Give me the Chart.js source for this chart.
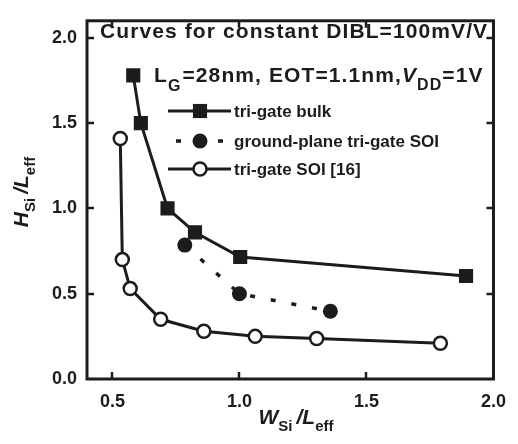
<!DOCTYPE html>
<html>
<head>
<meta charset="utf-8">
<script src="https://cdn.jsdelivr.net/npm/chart.js@4.4.1/dist/chart.umd.min.js"></script>
<style>
  html, body { margin: 0; padding: 0; background: #fff; }
  #wrap { width: 518px; height: 444px; }
</style>
</head>
<body>
<div id="wrap"><canvas id="chart" width="518" height="444"></canvas></div>
<script>
// values
const bulkX = [0.582, 0.612, 0.717, 0.825, 1.003, 1.892];
const bulkY = [1.78, 1.50, 1.00, 0.86, 0.715, 0.604];
const gpX = [0.785, 1.0, 1.358];
const gpY = [0.785, 0.50, 0.397];
const soiX = [0.531, 0.539, 0.570, 0.690, 0.860, 1.062, 1.304, 1.791];
const soiY = [1.41, 0.70, 0.53, 0.35, 0.28, 0.25, 0.237, 0.21];
const xTicks = [0.5, 1.0, 1.5, 2.0];
const yTicks = [0.0, 0.5, 1.0, 1.5, 2.0];
const legendLabels = ['tri-gate bulk', 'ground-plane tri-gate SOI', 'tri-gate SOI [16]'];

const INK = '#1c1c1c';
const FONT = '"Liberation Sans", Arial, sans-serif';

const toPts = (xs, ys) => xs.map((x, i) => ({ x, y: ys[i] }));

// draws a run of text pieces (for subscripts / italics)
const drawRich = (ctx, parts, x, y, align) => {
    let total = 0;
    parts.forEach(p => { ctx.font = p.font; total += ctx.measureText(p.t).width + (p.gap || 0); });
    let cx = align === 'center' ? x - total / 2 : x;
    parts.forEach(p => {
        ctx.font = p.font;
        ctx.fillText(p.t, cx, y + (p.dy || 0));
        cx += ctx.measureText(p.t).width + (p.gap || 0);
    });
};

const decorations = {
    id: 'decorations',
    afterDraw(chart) {
        const { ctx, chartArea: a, scales } = chart;
        ctx.save();
        ctx.strokeStyle = INK;
        ctx.fillStyle = INK;

        // inward ticks on all four sides
        ctx.lineWidth = 2.5;
        ctx.beginPath();
        xTicks.forEach(v => {
            const px = Math.round(scales.x.getPixelForValue(v));
            if (px >= a.right - 2) return;
            ctx.moveTo(px, a.bottom); ctx.lineTo(px, a.bottom - 7);
            ctx.moveTo(px, a.top); ctx.lineTo(px, a.top + 7);
        });
        yTicks.forEach(v => {
            const py = Math.round(scales.y.getPixelForValue(v));
            if (py >= a.bottom - 2) return;
            ctx.moveTo(a.left, py); ctx.lineTo(a.left + 7, py);
            ctx.moveTo(a.right, py); ctx.lineTo(a.right - 7, py);
        });
        ctx.stroke();

        // frame
        ctx.lineWidth = 3;
        ctx.strokeRect(a.left, a.top, a.right - a.left, a.bottom - a.top);

        // annotation text
        ctx.textBaseline = 'alphabetic';
        ctx.textAlign = 'left';
        ctx.save();
        ctx.letterSpacing = '1.1px';
        ctx.font = `bold 21px ${FONT}`;
        ctx.fillText('Curves for constant DIBL=100mV/V', 100, 38);
        drawRich(ctx, [
            { t: 'L', font: `bold 21px ${FONT}` },
            { t: 'G', font: `bold 16px ${FONT}`, dy: 9, gap: 1 },
            { t: '=28nm, EOT=1.1nm,', font: `bold 21px ${FONT}` },
            { t: 'V', font: `italic bold 21px ${FONT}` },
            { t: 'DD', font: `bold 16px ${FONT}`, dy: 8 },
            { t: '=1V', font: `bold 21px ${FONT}` }
        ], 154, 82);
        ctx.restore();

        // legend
        const rows = [111, 141, 169];
        const ds = chart.data.datasets;
        rows.forEach((ry, i) => {
            const d = ds[i];
            ctx.save();
            ctx.lineWidth = d.borderWidth;
            ctx.strokeStyle = INK;
            if (d.borderDash) {
                ctx.setLineDash([5, 16]);
                ctx.beginPath();
                ctx.moveTo(176, ry); ctx.lineTo(228, ry);
                ctx.stroke();
            } else {
                ctx.beginPath();
                ctx.moveTo(168, ry); ctx.lineTo(231, ry);
                ctx.stroke();
            }
            ctx.restore();
            ctx.save();
            ctx.fillStyle = d.pointBackgroundColor;
            ctx.strokeStyle = INK;
            ctx.lineWidth = d.pointBorderWidth;
            Chart.helpers.drawPoint(ctx, {
                pointStyle: d.pointStyle, rotation: 0, radius: d.pointRadius, borderWidth: d.pointBorderWidth,
            }, 200, ry);
            ctx.restore();
            ctx.fillStyle = INK;
            ctx.font = `bold 17px ${FONT}`;
            ctx.textBaseline = 'middle';
            ctx.fillText(legendLabels[i], 234, ry + 1);
        });

        // axis titles
        ctx.textBaseline = 'alphabetic';
        drawRich(ctx, [
            { t: 'W', font: `italic bold 21px ${FONT}` },
            { t: 'Si', font: `bold 15px ${FONT}`, dy: 7, gap: 4 },
            { t: '/', font: `italic bold 21px ${FONT}` },
            { t: 'L', font: `italic bold 21px ${FONT}` },
            { t: 'eff', font: `bold 15px ${FONT}`, dy: 7 }
        ], 296, 424, 'center');

        ctx.translate(28, 192);
        ctx.rotate(-Math.PI / 2);
        drawRich(ctx, [
            { t: 'H', font: `italic bold 21px ${FONT}` },
            { t: 'Si', font: `bold 15px ${FONT}`, dy: 7, gap: 4 },
            { t: '/', font: `italic bold 21px ${FONT}` },
            { t: 'L', font: `italic bold 21px ${FONT}` },
            { t: 'eff', font: `bold 15px ${FONT}`, dy: 7 }
        ], 0, 0, 'center');
        ctx.restore();
    }
};

const lineDs = (label, pts, opts) => Object.assign({
    label,
    data: pts,
    showLine: true,
    borderColor: INK,
    borderWidth: 3,
    pointBorderColor: INK,
    pointHoverRadius: 0,
    tension: 0,
}, opts);

new Chart(document.getElementById('chart').getContext('2d'), {
    type: 'scatter',
    data: {
        datasets: [
            lineDs(legendLabels[0], toPts(bulkX, bulkY), {
                pointStyle: 'rect', pointRadius: 10, pointBackgroundColor: INK, pointBorderWidth: 0,
            }),
            lineDs(legendLabels[1], toPts(gpX, gpY), {
                borderDash: [5, 16], borderWidth: 3.5,
                pointStyle: 'circle', pointRadius: 7.5, pointBackgroundColor: INK, pointBorderWidth: 0,
            }),
            lineDs(legendLabels[2], toPts(soiX, soiY), {
                pointStyle: 'circle', pointRadius: 6.5, pointBackgroundColor: '#fff', pointBorderWidth: 2.5,
            }),
        ],
    },
    options: {
        responsive: false,
        animation: false,
        events: [],
        layout: { padding: { top: 7, right: 17, left: 0, bottom: 0 } },
        plugins: { legend: { display: false }, tooltip: { enabled: false } },
        scales: {
            x: {
                type: 'linear',
                min: 0.4,
                max: 2.0,
                afterBuildTicks: s => { s.ticks = xTicks.map(v => ({ value: v })); },
                afterFit: s => { s.height = 65; },
                grid: { display: false, drawTicks: false },
                border: { display: false },
                ticks: {
                    padding: 12,
                    color: INK,
                    font: { family: FONT, size: 18, weight: 'bold' },
                    callback: v => v.toFixed(1),
                },
            },
            y: {
                type: 'linear',
                min: 0,
                max: 2.1,
                afterBuildTicks: s => { s.ticks = yTicks.map(v => ({ value: v })); },
                afterFit: s => { s.width = 87; },
                grid: { display: false, drawTicks: false },
                border: { display: false },
                ticks: {
                    padding: 10,
                    color: INK,
                    font: { family: FONT, size: 18, weight: 'bold' },
                    callback: v => v.toFixed(1),
                },
            },
        },
    },
    plugins: [decorations],
});
</script>
</body>
</html>
